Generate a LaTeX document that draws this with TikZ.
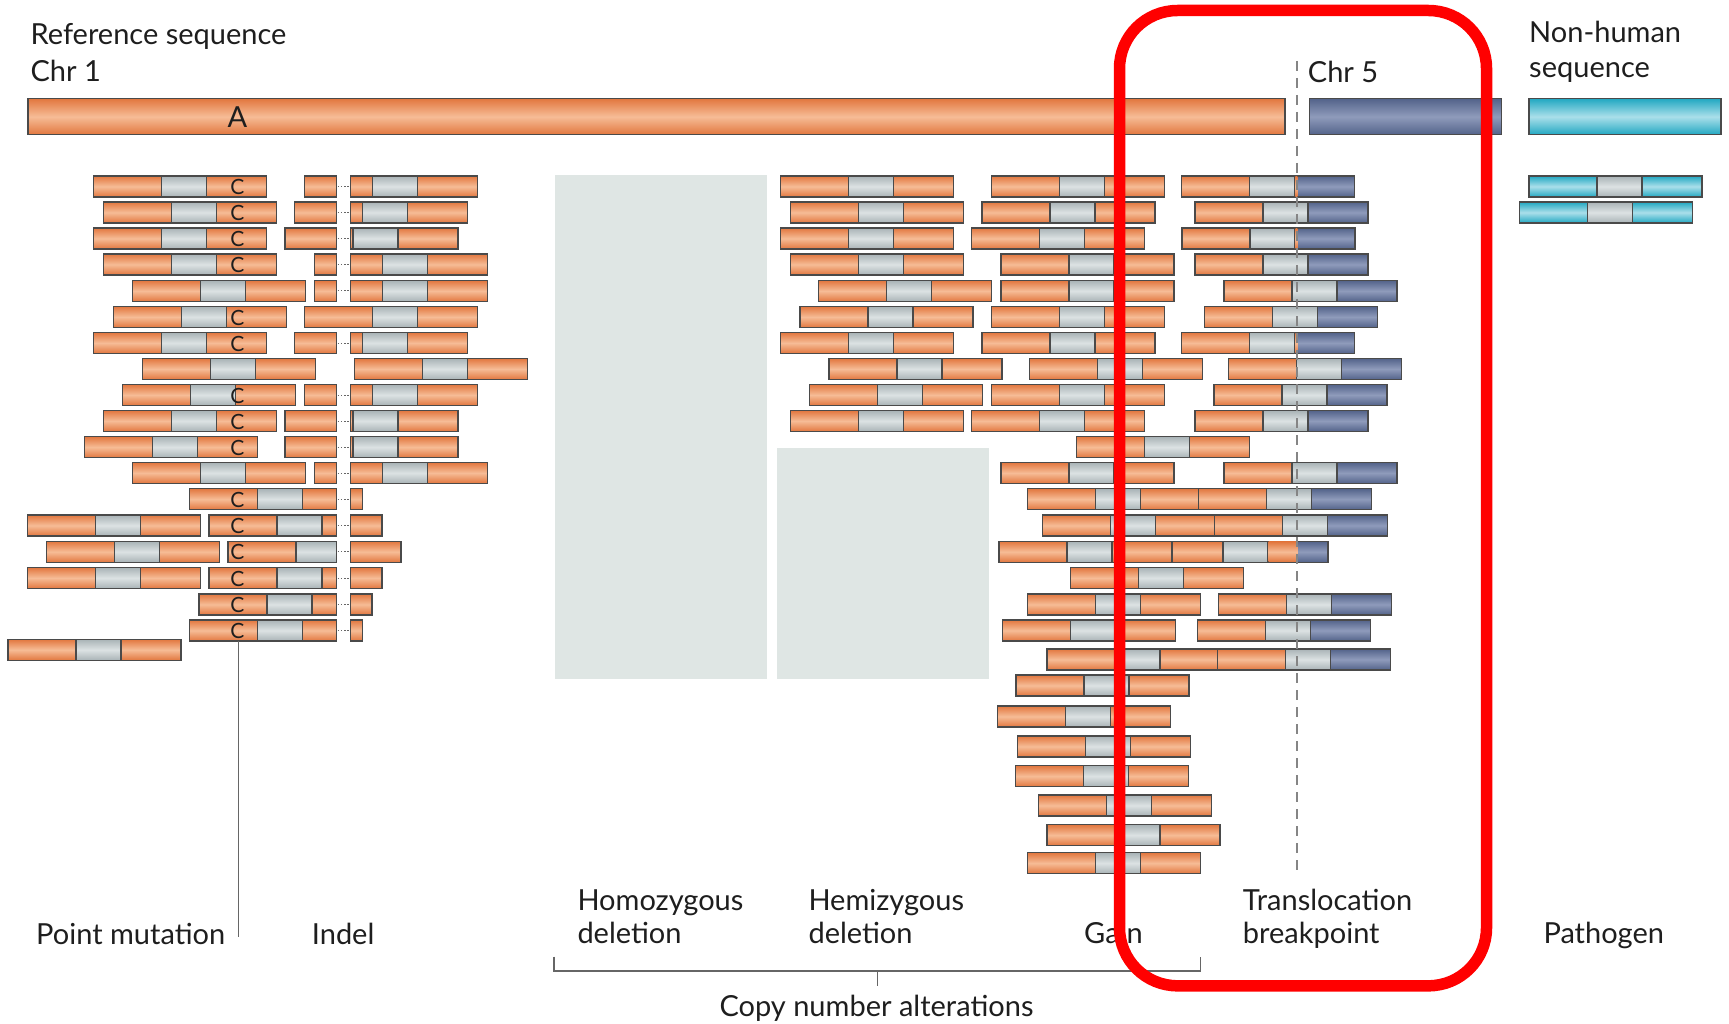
\documentclass[tikz,border=0pt]{standalone}
\usepackage{fontspec}
\setmainfont{Lato}
\definecolor{oD}{HTML}{E2773F}
\definecolor{oL}{HTML}{F6BC96}
\definecolor{gD}{HTML}{A9B3B6}
\definecolor{gL}{HTML}{DCE2E3}
\definecolor{bD}{HTML}{53638A}
\definecolor{bL}{HTML}{8F9BBB}
\definecolor{cD}{HTML}{22A8C2}
\definecolor{cL}{HTML}{AADFEA}
\definecolor{bdr}{HTML}{4A4A4A}
\definecolor{txt}{HTML}{1E1E1E}
\definecolor{delbg}{HTML}{DFE6E4}
\definecolor{brk}{HTML}{666666}
\tikzset{
  seg/.style={draw=bdr, line width=1.2},
  ors/.style={seg, top color=oD, bottom color=oD, middle color=oL},
  grs/.style={seg, top color=gD, bottom color=gD, middle color=gL},
  bls/.style={seg, top color=bD, bottom color=bD, middle color=bL},
  cys/.style={seg, top color=cD, bottom color=cD, middle color=cL},
  lbl/.style={font=\fontsize{29}{33}\selectfont, text=txt, inner sep=0pt, anchor=base west},
  cmut/.style={font=\fontsize{21}{21}\selectfont, text=txt, inner sep=0pt},
}
% read pair: start x, top y
\newcommand\RP[2]{%
  \pgfmathsetmacro\rpA{#1+68}\pgfmathsetmacro\rpB{#1+113}%
  \pgfmathsetmacro\rpC{#1+173}\pgfmathsetmacro\rpY{#2+21}%
  \path[ors] (#1,#2) rectangle (\rpA,\rpY);
  \path[grs] (\rpA,#2) rectangle (\rpB,\rpY);
  \path[ors] (\rpB,#2) rectangle (\rpC,\rpY);}
% translocation pair
\newcommand\TP[2]{%
  \pgfmathsetmacro\rpA{#1+68}\pgfmathsetmacro\rpB{#1+113}%
  \pgfmathsetmacro\rpC{#1+173}\pgfmathsetmacro\rpY{#2+21}%
  \path[ors] (#1,#2) rectangle (\rpA,\rpY);
  \path[grs] (\rpA,#2) rectangle (\rpB,\rpY);
  \path[bls] (\rpB,#2) rectangle (\rpC,\rpY);
  \pgfmathtruncatemacro\rpF{\rpB<1296}%
  \ifnum\rpF=1
    \path[top color=oD, bottom color=oD, middle color=oL] (\rpB+0.6,#2+0.6) rectangle (1297.3,\rpY-0.6);
  \fi}
% pathogen pair
\newcommand\PP[2]{%
  \pgfmathsetmacro\rpA{#1+68}\pgfmathsetmacro\rpB{#1+113}%
  \pgfmathsetmacro\rpC{#1+173}\pgfmathsetmacro\rpY{#2+21}%
  \path[cys] (#1,#2) rectangle (\rpA,\rpY);
  \path[grs] (\rpA,#2) rectangle (\rpB,\rpY);
  \path[cys] (\rpB,#2) rectangle (\rpC,\rpY);}
% deletion gap of the indel
\newcommand\GAP[1]{%
  \fill[white] (337.1,#1-1.5) rectangle (350.0,#1+22.5);
  \draw[bdr, line width=1.2] (336.4,#1) -- (336.4,#1+21) (350.7,#1) -- (350.7,#1+21);
  \draw[brk, line width=1, dash pattern=on 1.6 off 1.6] (337.6,#1+10.5) -- (349.6,#1+10.5);}
% point mutation letter
\newcommand\CC[2]{\node[cmut] (c#1) at (237.5,#2+11) {C};}
\begin{document}
\begin{tikzpicture}[x=1pt,y=-1pt]
\useasboundingbox (0,0) rectangle (1729,1024);
% deletion backgrounds
\fill[delbg] (555,175) rectangle (767,679);
\fill[delbg] (777,447.7) rectangle (989,679);
% reference bars
\path[ors] (27.9,98.7) rectangle (1285,134.7);
\path[bls] (1309.7,98.7) rectangle (1501.7,134.7);
\path[cys] (1529,98.7) rectangle (1721,134.7);
\node[font=\fontsize{29}{29}\selectfont, text=txt, inner sep=0pt] (refA) at (237.5,117) {A};
% row 1
\RP{93.6}{176}\CC{1}{176}\RP{304.3}{176}\GAP{176}
\RP{780.8}{176}\RP{991.7}{176}\TP{1181.7}{176}\PP{1529}{176}
% row 2
\RP{103.6}{202}\CC{2}{202}\RP{294.3}{202}\GAP{202}
\RP{790.2}{202}\RP{982}{202}\TP{1195}{202}\PP{1519.7}{202}
% row 3
\RP{93.6}{228}\CC{3}{228}\RP{285}{228}\GAP{228}
\RP{780.8}{228}\RP{971.7}{228}\TP{1182}{228}
% row 4
\RP{103.6}{254}\CC{4}{254}\RP{314.3}{254}\GAP{254}
\RP{790.2}{254}\RP{1001}{254}\TP{1195}{254}
% row 5
\RP{132.1}{280.5}\RP{314.3}{280.5}\GAP{280.5}
\RP{818.8}{280.5}\RP{1001}{280.5}\TP{1224}{280.5}
% row 6
\RP{113.2}{306.5}\CC{6}{306.5}\RP{304.3}{306.5}
\RP{800}{306.5}\RP{991.7}{306.5}\TP{1204.7}{306.5}
% row 7
\RP{93.6}{332.5}\CC{7}{332.5}\RP{294.3}{332.5}\GAP{332.5}
\RP{780.8}{332.5}\RP{982}{332.5}\TP{1181.7}{332.5}
% row 8
\RP{142.1}{358.5}\RP{354.3}{358.5}
\RP{829}{358.5}\RP{1029.7}{358.5}\TP{1228.3}{358.5}
% row 9
\RP{122.5}{384.5}\CC{9}{384.5}\RP{304.3}{384.5}\GAP{384.5}
\RP{809.4}{384.5}\RP{991.7}{384.5}\TP{1214}{384.5}
% row 10
\RP{103.6}{410.5}\CC{10}{410.5}\RP{285}{410.5}\GAP{410.5}
\RP{790.2}{410.5}\RP{971.7}{410.5}\TP{1195}{410.5}
% row 11
\RP{84.3}{436.7}\CC{11}{436.7}\RP{285}{436.7}\GAP{436.7}
\RP{1076.3}{436.7}
% row 12
\RP{132.1}{462.5}\RP{314.3}{462.5}\GAP{462.5}
\RP{1001}{462.5}\TP{1224}{462.5}
% row 13
\RP{189.3}{488.7}\GAP{488.7}\CC{13}{488.7}
\RP{1027.3}{488.7}\TP{1198.7}{488.7}
% row 14
\RP{27.1}{515}\RP{209}{515}\GAP{515}\CC{14}{515}
\RP{1042.3}{515}\TP{1214.7}{515}
% row 15
\RP{46.4}{541.3}\RP{227.9}{541.3}\GAP{541.3}\CC{15}{541.3}
\TP{1155}{541.3}\RP{999}{541.3}
% row 16
\RP{27.1}{567.5}\RP{209}{567.5}\GAP{567.5}\CC{16}{567.5}
\RP{1070.3}{567.5}
% row 17
\RP{198.9}{594}\GAP{594}\CC{17}{594}
\RP{1027.3}{594}\TP{1218.3}{594}
% row 18
\RP{189.3}{620}\GAP{620}\CC{18}{620}
\RP{1002.3}{620}\TP{1197.3}{620}
% extra left read
\RP{7.9}{639.3}
% rows 19-26 (gain)
\RP{1047}{649}\TP{1217.7}{649}
\RP{1016}{675}
\RP{997.3}{706}
\RP{1017.3}{736}
\RP{1015.3}{765.7}
\RP{1038.3}{795}
\RP{1047}{824.7}
\RP{1027.3}{852.7}
% breakpoint dashed line
\coordinate (bpTop) at (1297.3,61);
\coordinate (bpBot) at (1297.3,876);
\draw[brk!80, line width=2, dash pattern=on 10 off 7] (bpTop) -- (bpBot);
% point mutation pointer
\coordinate (pmTop) at (238.7,641);
\coordinate (pmBot) at (238.7,936.7);
\draw[brk, line width=1.3] (pmTop) -- (pmBot);
% copy number bracket
\coordinate (brL) at (554,956.7);
\coordinate (brR) at (1200.7,956.7);
\coordinate (brM) at (877.7,971);
\coordinate (brMb) at (877.7,986);
\draw[brk, line width=1.3] (brL) -- (554,971) -- (1200.7,971) -- (brR);
\draw[brk, line width=1.3] (brM) -- (brMb);
% labels
\node[lbl] (ref1) at (30.4,45) {Reference sequence};
\node[lbl] (chr1) at (30.4,81.7) {Chr 1};
\node[lbl] (chr5) at (1307.7,82.7) {Chr 5};
\node[lbl] (nh1) at (1529,42.7) {Non-human};
\node[lbl] (nh2) at (1529,78) {sequence};
\node[lbl] (pm) at (36,944.3) {Point mutation};
\node[lbl] (ind) at (311.7,944.3) {Indel};
\node[lbl] (ho1) at (577.3,910) {Homozygous};
\node[lbl] (ho2) at (577.3,943.3) {deletion};
\node[lbl] (he1) at (808.3,910) {Hemizygous};
\node[lbl] (he2) at (808.3,943.3) {deletion};
\node[lbl] (gain) at (1084,943.3) {Gain};
\node[lbl] (tr1) at (1242.7,910) {Translocation};
\node[lbl] (tr2) at (1242.7,943.3) {breakpoint};
\node[lbl] (pat) at (1543.3,943.3) {Pathogen};
\node[lbl] (cna) at (719.3,1016.7) {Copy number alterations};
% highlight box
\draw[red, line width=11.5, rounded corners=58] (1119.5,10.5) rectangle (1486.5,985.8);
\end{tikzpicture}
\end{document}
